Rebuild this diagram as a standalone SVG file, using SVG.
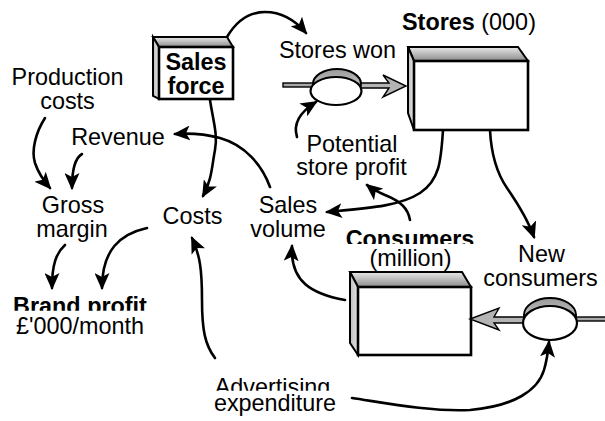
<svg xmlns="http://www.w3.org/2000/svg" width="605" height="421" viewBox="0 0 605 421">
<style>
text{font-family:"Liberation Sans",Arial,Helvetica,sans-serif;font-size:23.4px;fill:#000}
.c{text-anchor:middle}
.b{font-weight:bold}
.link{fill:none;stroke:#000;stroke-width:2.6;stroke-linecap:round;marker-end:url(#ah)}
.face{fill:#fff;stroke:#000;stroke-width:2.6}
.top{fill:url(#gTop);stroke:#000;stroke-width:2}
.side{fill:url(#gSide);stroke:#000;stroke-width:2}
.pipe{fill:#a8a8a8;stroke:#000;stroke-width:1.4}
.flow{fill:#b4b4b4;stroke:#000;stroke-width:1.4;stroke-linejoin:miter}
.cap{fill:url(#gCap);stroke:#000;stroke-width:2}
.valve{fill:#fff;stroke:#000;stroke-width:2.2}
</style>
<defs>
<linearGradient id="gTop" x1="0" y1="0" x2="0" y2="1">
<stop offset="0" stop-color="#e8e8e8"/><stop offset="1" stop-color="#8c8c8c"/>
</linearGradient>
<linearGradient id="gSide" x1="0" y1="0" x2="1" y2="0">
<stop offset="0" stop-color="#bdbdbd"/><stop offset="1" stop-color="#e6e6e6"/>
</linearGradient>
<linearGradient id="gCap" x1="0" y1="0" x2="0" y2="1">
<stop offset="0" stop-color="#9a9a9a"/><stop offset="1" stop-color="#e0e0e0"/>
</linearGradient>
<marker id="ah" markerUnits="userSpaceOnUse" viewBox="0 0 17 15" markerWidth="17" markerHeight="15" refX="15" refY="7.5" orient="auto">
<path d="M0,0 L17,7.5 L0,15 L4,7.5 z" fill="#000"/>
</marker>
<clipPath id="clipBrand"><rect x="0" y="280" width="200" height="30.7"/></clipPath>
<clipPath id="clipCons"><rect x="330" y="215" width="160" height="29"/></clipPath>
<clipPath id="clipAdv"><rect x="200" y="360" width="150" height="30.7"/></clipPath>
</defs>

<g id="connectors">
<path class="link" d="M227,37 C237,20 250,12 265,12 C282,12 295,20 306,33"/>
<path class="link" d="M210,100 C213,120 218,135 215,150 C212,165 212,180 203,196"/>
<path class="link" d="M270,187 C262,165 245,145 220,138 C205,134 190,133 175,134"/>
<path class="link" d="M45,118 C36,132 31,150 35,163 C38,172 43,180 50,188"/>
<path class="link" d="M82,154 C75,158 72,168 72,188"/>
<path class="link" d="M65,245 C56,253 52,265 52,288"/>
<path class="link" d="M147,228 C120,234 102,250 102,288"/>
<path class="link" d="M215,358 C205,345 202,330 202,300 C202,270 200,255 192,238"/>
<path class="link" d="M345,300 C312,294 290,282 292,246"/>
<path class="link" d="M443,130 C441,160 440,180 420,193 C400,206 370,208 327,212"/>
<path class="link" d="M410,220 C408,208 400,201 385,195 C378,192 372,189 367,185"/>
<path class="link" d="M490,130 C491,150 496,172 507,188 C518,204 528,220 534,237"/>
<path class="link" d="M297,137 C293,124 300,112 316,102"/>
<path class="link" d="M352,398 C380,402 430,412 470,410 C515,406 538,390 544,370 C547,360 548,352 549,342"/>
</g>

<g id="sales-force">
<polygon class="top" points="153,37 227,37 233,47 159,47"/>
<polygon class="side" points="153,37 159,47 159,99 153,96"/>
<rect class="face" x="159" y="47" width="74" height="52"/>
<text class="c b" x="196" y="70">Sales</text>
<text class="c b" x="196" y="94">force</text>
</g>

<g id="stores">
<polygon class="top" points="408,47 518,47 528,61 414,61"/>
<polygon class="side" points="408,47 414,61 414,130 408,113"/>
<rect class="face" x="414" y="61" width="114" height="69"/>
<text x="402" y="30"><tspan class="b">Stores</tspan> (000)</text>
</g>

<g id="stores-won">
<rect class="pipe" x="283" y="83" width="32" height="4"/>
<path class="flow" d="M360,83 L389,83 L383,75 L406,86 L383,97 L389,88 L360,88 z"/>
<ellipse class="cap" cx="337" cy="84" rx="24" ry="15"/>
<ellipse class="valve" cx="336" cy="91" rx="25.5" ry="14"/>
<text class="c" x="337.5" y="58">Stores won</text>
</g>

<g id="consumers">
<polygon class="top" points="350,272 462,272 471,287 358,287"/>
<polygon class="side" points="350,272 358,287 358,355 350,343"/>
<rect class="face" x="358" y="287" width="113" height="68"/>
<text class="c b" x="410" y="247" clip-path="url(#clipCons)">Consumers</text>
<text class="c" x="410.5" y="266">(million)</text>
</g>

<g id="new-consumers">
<rect class="pipe" x="574" y="317" width="33" height="4"/>
<path class="flow" d="M525,317 L494,317 L499,308 L470,319 L499,330 L494,323 L525,323 z"/>
<ellipse class="cap" cx="550" cy="315" rx="26" ry="17"/>
<ellipse class="valve" cx="550" cy="323" rx="27" ry="17"/>
<text class="c" x="541.5" y="262">New</text>
<text class="c" x="540.5" y="286">consumers</text>
</g>

<g id="production-costs">
<text class="c" x="67.5" y="85">Production</text>
<text class="c" x="67.5" y="109">costs</text>
</g>
<g id="revenue"><text class="c" x="118" y="145">Revenue</text></g>
<g id="gross-margin">
<text class="c" x="73" y="213">Gross</text>
<text class="c" x="72" y="237">margin</text>
</g>
<g id="costs"><text class="c" x="192.5" y="224">Costs</text></g>
<g id="sales-volume">
<text class="c" x="288" y="213">Sales</text>
<text class="c" x="288" y="237">volume</text>
</g>
<g id="potential-store-profit">
<text class="c" x="352" y="152">Potential</text>
<text class="c" x="351.5" y="175">store profit</text>
</g>
<g id="brand-profit">
<text class="c b" x="80" y="313.5" clip-path="url(#clipBrand)">Brand profit</text>
<text class="c" x="80" y="334">£'000/month</text>
</g>
<g id="advertising-expenditure">
<text class="c" x="272.5" y="395" clip-path="url(#clipAdv)">Advertising</text>
<text class="c" x="275" y="411">expenditure</text>
</g>
</svg>
